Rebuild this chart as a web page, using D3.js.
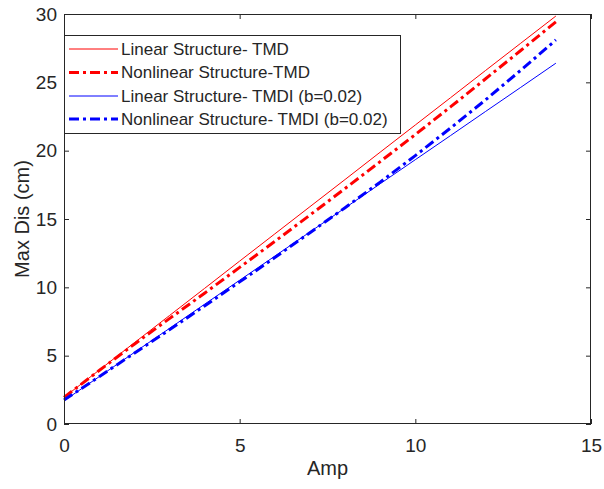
<!DOCTYPE html>
<html><head><meta charset="utf-8">
<script src="https://cdn.jsdelivr.net/npm/d3@7"></script>
<style>body{margin:0;background:#fff}svg{display:block}text{font-family:"Liberation Sans",Arial,sans-serif;fill:#262626}</style>
</head><body><svg id="c" width="604" height="489"></svg>
<script>
const amp = [0,1,2,3,4,5,6,7,8,9,10,11,12,13,14];
const linTMD = [1.95,3.94,5.94,7.93,9.92,11.92,13.91,15.90,17.89,19.89,21.88,23.87,25.87,27.86,29.85];
const nonTMD = [1.95,3.91,5.84,7.71,9.57,11.46,13.36,15.29,17.23,19.20,21.18,23.20,25.26,27.33,29.43];
const linTMDI = [1.70,3.46,5.23,6.99,8.76,10.52,12.28,14.05,15.81,17.58,19.34,21.10,22.87,24.63,26.40];
const nonTMDI = [1.75,3.46,5.18,6.89,8.64,10.40,12.18,14.00,15.83,17.70,19.64,21.65,23.72,25.88,28.10];
const xTicks = [0,5,10,15];
const yTicks = [0,5,10,15,20,25,30];
const seriesNames = ["Linear Structure- TMD","Nonlinear Structure-TMD","Linear Structure- TMDI (b=0.02)","Nonlinear Structure- TMDI (b=0.02)"];

const svg = d3.select("#c");
const L=64, R=591, T=14, B=424;
const x = d3.scaleLinear().domain([0,15]).range([L,R]);
const y = d3.scaleLinear().domain([0,30]).range([B,T]);
const ax = "#262626";

const series = [
  {name:seriesNames[0], v:linTMD, color:"#ff0000", w:1, dash:null},
  {name:seriesNames[1], v:nonTMD, color:"#ff0000", w:3, dash:"10,4,3,4"},
  {name:seriesNames[2], v:linTMDI, color:"#0000ff", w:1, dash:null},
  {name:seriesNames[3], v:nonTMDI, color:"#0000ff", w:3, dash:"10,4,3,4"}
];

const line = d3.line().x((d,i)=>x(amp[i])).y(d=>y(d));
series.forEach(s=>{
  svg.append("path").attr("d",line(s.v)).attr("fill","none")
    .attr("stroke",s.color).attr("stroke-width",s.w)
    .attr("stroke-dasharray",s.dash);
});

// axes
const fs = 19;
const gx = svg.append("g").attr("transform",`translate(0,${B})`)
  .call(d3.axisBottom(x).tickValues(xTicks).tickSize(-5).tickPadding(15).tickFormat(d3.format("d")));
const gxt = svg.append("g").attr("transform",`translate(0,${T})`)
  .call(d3.axisTop(x).tickValues(xTicks).tickSize(-5).tickFormat(""));
const gy = svg.append("g").attr("transform",`translate(${L},0)`)
  .call(d3.axisLeft(y).tickValues(yTicks).tickSize(-5).tickPadding(7).tickFormat(d3.format("d")));
const gyr = svg.append("g").attr("transform",`translate(${R},0)`)
  .call(d3.axisRight(y).tickValues(yTicks).tickSize(-5).tickFormat(""));
[gx,gxt,gy,gyr].forEach(g=>{
  g.selectAll("line").attr("stroke",ax);
  g.selectAll("text").attr("font-size",fs).attr("fill",ax).attr("font-family",'"Liberation Sans",Arial,sans-serif');
  g.select(".domain").remove();
});
// box
svg.append("rect").attr("x",L+0.5).attr("y",T+0.5).attr("width",R-L-1).attr("height",B-T-1)
  .attr("fill","none").attr("stroke",ax).attr("stroke-width",1);

// axis labels
svg.append("text").attr("x",(L+R)/2).attr("y",475).attr("text-anchor","middle").attr("font-size",20).text("Amp");
svg.append("text").attr("transform",`translate(29,${(T+B)/2}) rotate(-90)`).attr("text-anchor","middle").attr("font-size",20).text("Max Dis (cm)");

// legend
const lg = svg.append("g");
lg.append("rect").attr("x",L+0.5).attr("y",35.5).attr("width",336).attr("height",98)
  .attr("fill","#fff").attr("stroke",ax).attr("stroke-width",1);
const rowY = [49,72.5,96,119];
series.forEach((s,i)=>{
  lg.append("line").attr("x1",69).attr("x2",118).attr("y1",rowY[i]).attr("y2",rowY[i])
    .attr("stroke",s.color).attr("stroke-width",s.w).attr("stroke-dasharray",s.dash);
  lg.append("text").attr("x",121).attr("y",rowY[i]).attr("dy","0.35em").attr("font-size",17).text(s.name);
});
</script></body></html>
